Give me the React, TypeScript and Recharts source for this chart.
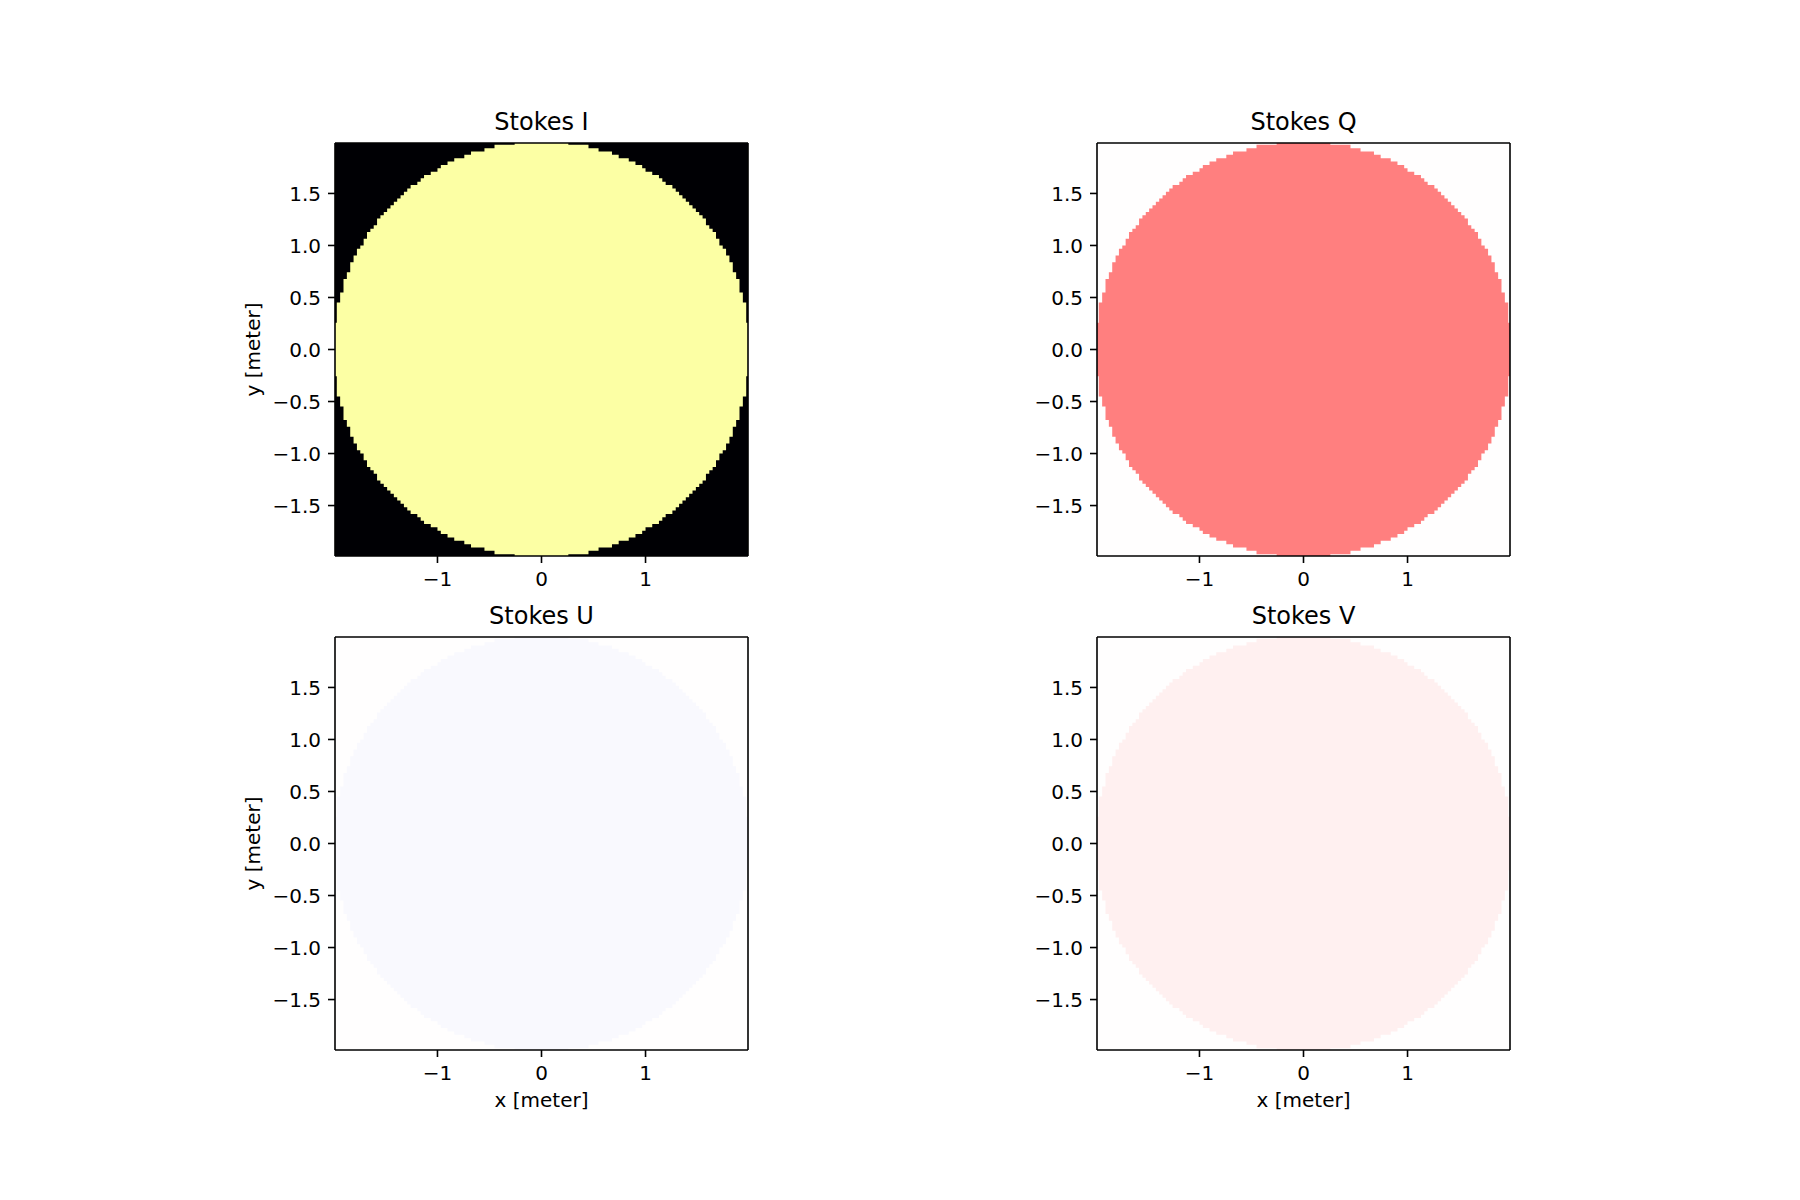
import React from 'react';
import { ComposedChart, Area, XAxis, YAxis, CartesianGrid } from 'recharts';

// ---------- data ----------
const PANEL_TITLES = ['Stokes I', 'Stokes Q', 'Stokes U', 'Stokes V'];
const X_TICKS = [-1, 0, 1];
const Y_TICKS = [-1.5, -1.0, -0.5, 0.0, 0.5, 1.0, 1.5];
const X_LABEL = 'x [meter]';
const Y_LABEL = 'y [meter]';
const AXIS_LIMIT = 1.985; // visible axis range (meter)
const IMAGE_EXTENT = 2.0; // half-size of the pixel image (meter)
const GRID_SIZE = 124; // pixels across the image
// lit pixels above (and, mirrored, below) the centre line for each column,
// read from the picture, from the centre column outwards
const HALF_COUNTS = [
  62, 62, 62, 62, 62, 62, 62, 62, 61, 61, 61, 61, 61, 61, 60, 60, 60, 59, 59, 59,
  59, 58, 58, 57, 57, 57, 56, 56, 55, 55, 54, 53, 53, 52, 52, 51, 50, 49, 49, 48,
  47, 46, 45, 44, 43, 42, 41, 40, 39, 37, 36, 35, 33, 31, 30, 28, 26, 23, 21, 17,
  14, 8,
];

// build the column table (left edge of each pixel column + its lit range)
const PIXEL = (2 * IMAGE_EXTENT) / GRID_SIZE;
const HALF = GRID_SIZE / 2;
const columns: { x: number; range: [number, number] }[] = [];
for (let i = 0; i < GRID_SIZE; i++) {
  const j = i < HALF ? HALF - 1 - i : i - HALF;
  const h = HALF_COUNTS[j] * PIXEL;
  columns.push({ x: -IMAGE_EXTENT + i * PIXEL, range: [-h, h] });
}
columns.push({ x: IMAGE_EXTENT, range: columns[columns.length - 1].range });

// ---------- styles ----------
const PANEL_STYLES = [
  { bg: '#000004', fg: '#fcffa4' },
  { bg: '#fffefe', fg: '#ff7f7f' },
  { bg: '#fffefe', fg: '#f9f9fe' },
  { bg: '#fffefe', fg: '#fff0f0' },
];
const PLOT = 413;
const Y_W = 165;
const X_H = 80;
const M_TOP = 50;
const TOP_H = 1;
const RIGHT_W = 1;
const M_RIGHT = 20;
const FONT = "'DejaVu Sans', sans-serif";
const AXIS_LINE = { stroke: '#000', strokeWidth: 1.6 };

const fmtY = (v: number) => (v < 0 ? '\u2212' : '') + Math.abs(v).toFixed(1);
const fmtX = (v: number) => (v < 0 ? '\u2212' : '') + Math.abs(v).toFixed(0);

function Panel({
  title,
  plotLeft,
  plotTop,
  showX,
  showY,
  bg,
  fg,
}: {
  title: string;
  plotLeft: number;
  plotTop: number;
  showX: boolean;
  showY: boolean;
  bg: string;
  fg: string;
}) {
  return (
    <div style={{ position: 'absolute', left: plotLeft - Y_W, top: plotTop - M_TOP }}>
      <ComposedChart
        width={Y_W + PLOT + M_RIGHT}
        height={M_TOP + PLOT + X_H}
        data={columns}
        margin={{ top: M_TOP - TOP_H, right: M_RIGHT - RIGHT_W, bottom: 0, left: 0 }}
      >
        <CartesianGrid fill={bg} fillOpacity={1} horizontal={false} vertical={false} stroke="none" />
        <XAxis
          dataKey="x"
          type="number"
          domain={[-AXIS_LIMIT, AXIS_LIMIT]}
          allowDataOverflow
          ticks={X_TICKS}
          interval={0}
          tickFormatter={fmtX}
          tickSize={7}
          tickMargin={9}
          height={X_H}
          axisLine={AXIS_LINE}
          tickLine={AXIS_LINE}
          tick={{ fill: '#000', fontSize: 20, fontFamily: FONT }}
          label={
            showX
              ? { value: X_LABEL, position: 'insideBottom', offset: 23, fontSize: 20, fill: '#000', fontFamily: FONT }
              : undefined
          }
        />
        <XAxis
          xAxisId="top"
          dataKey="x"
          orientation="top"
          type="number"
          domain={[-AXIS_LIMIT, AXIS_LIMIT]}
          allowDataOverflow
          height={TOP_H}
          ticks={X_TICKS}
          tick={false}
          tickLine={false}
          axisLine={AXIS_LINE}
          label={{ value: title, position: 'top', offset: 11.6, fontSize: 24, fill: '#000', fontFamily: FONT }}
        />
        <YAxis
          type="number"
          domain={[-AXIS_LIMIT, AXIS_LIMIT]}
          allowDataOverflow
          ticks={Y_TICKS}
          interval={0}
          tickFormatter={fmtY}
          tickSize={7}
          tickMargin={7}
          width={Y_W}
          axisLine={AXIS_LINE}
          tickLine={AXIS_LINE}
          tick={{ fill: '#000', fontSize: 20, fontFamily: FONT }}
          label={
            showY
              ? { value: Y_LABEL, angle: -90, position: 'center', fontSize: 20, fill: '#000', fontFamily: FONT }
              : undefined
          }
        />
        <YAxis
          yAxisId="right"
          orientation="right"
          type="number"
          domain={[-AXIS_LIMIT, AXIS_LIMIT]}
          allowDataOverflow
          width={RIGHT_W}
          ticks={Y_TICKS}
          tick={false}
          tickLine={false}
          axisLine={AXIS_LINE}
        />
        <Area
          dataKey="range"
          type="stepAfter"
          fill={fg}
          fillOpacity={1}
          stroke="none"
          dot={false}
          activeDot={false}
          isAnimationActive={false}
        />
        <Area
          xAxisId="top"
          yAxisId="right"
          dataKey="range"
          type="stepAfter"
          fill="none"
          fillOpacity={0}
          stroke="none"
          dot={false}
          activeDot={false}
          isAnimationActive={false}
        />
      </ComposedChart>
    </div>
  );
}

const LAYOUT = [
  { plotLeft: 335.3, plotTop: 143.3, showX: false, showY: true },
  { plotLeft: 1096.7, plotTop: 143.3, showX: false, showY: false },
  { plotLeft: 335.3, plotTop: 637.3, showX: true, showY: true },
  { plotLeft: 1096.7, plotTop: 637.3, showX: true, showY: false },
];

export default function App() {
  return (
    <div
      style={{
        position: 'absolute',
        left: 0,
        top: 0,
        width: 1800,
        height: 1200,
        background: '#fff',
        fontFamily: FONT,
      }}
    >
      {PANEL_TITLES.map((t, i) => (
        <Panel key={t} title={t} {...LAYOUT[i]} bg={PANEL_STYLES[i].bg} fg={PANEL_STYLES[i].fg} />
      ))}
    </div>
  );
}
